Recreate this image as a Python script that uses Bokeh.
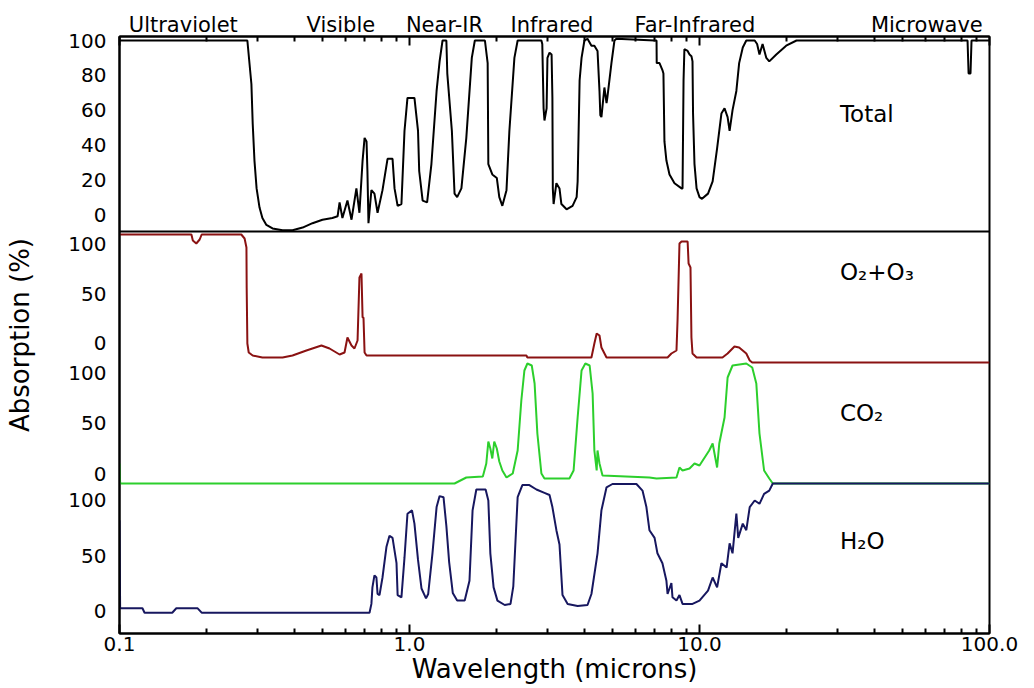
from bokeh.plotting import figure
from bokeh.models import Range1d, LogAxis, FixedTicker, Label, Span
from bokeh.embed import file_html
from bokeh.resources import INLINE

# ---------------- data (wavelength in microns, absorption in %) ----------------
TOTAL = [(0.1, 100), (0.276, 100), (0.285, 75), (0.288, 52), (0.292, 31), (0.297, 15), (0.304, 4),
         (0.311, -2), (0.321, -6), (0.337, -8), (0.365, -9), (0.395, -9), (0.428, -7.5), (0.463, -5),
         (0.501, -3), (0.542, -2), (0.565, -1), (0.574, 7), (0.587, -2), (0.611, 8), (0.631, -3),
         (0.656, 15), (0.672, 1), (0.689, 31), (0.700, 44), (0.711, 42), (0.716, 25), (0.722, -5),
         (0.739, 14), (0.757, 12), (0.776, 1), (0.807, 14), (0.840, 32), (0.874, 32), (0.888, 15),
         (0.910, 5), (0.938, 6), (0.961, 48), (0.984, 67), (1.04, 67), (1.07, 48), (1.08, 25),
         (1.11, 8), (1.15, 7), (1.19, 29), (1.24, 71), (1.27, 88), (1.30, 100), (1.34, 100),
         (1.35, 81), (1.40, 48), (1.43, 12), (1.46, 10), (1.51, 15), (1.57, 44), (1.64, 90),
         (1.68, 100), (1.82, 100), (1.86, 87), (1.87, 29), (1.93, 23), (2.00, 21), (2.04, 10),
         (2.09, 5), (2.16, 14), (2.21, 48), (2.30, 90), (2.36, 100), (2.85, 100), (2.87, 98),
         (2.90, 61), (2.92, 54), (2.97, 61), (2.99, 90), (3.04, 93), (3.09, 92), (3.11, 67),
         (3.12, 15), (3.14, 6), (3.21, 18), (3.29, 15), (3.34, 6), (3.48, 3), (3.65, 5), (3.77, 10),
         (3.80, 19), (3.86, 77), (3.92, 90), (4.01, 100), (4.11, 101), (4.24, 97), (4.34, 97),
         (4.45, 94), (4.52, 71), (4.55, 57), (4.59, 56), (4.70, 73), (4.78, 64), (4.81, 67),
         (4.97, 87), (5.09, 100), (5.17, 101), (7.00, 100), (7.11, 100), (7.12, 87), (7.28, 87),
         (7.45, 83), (7.51, 81), (7.57, 42), (7.69, 31), (7.88, 23), (8.20, 18), (8.67, 15),
         (8.74, 15), (8.81, 77), (8.87, 95), (9.10, 94), (9.24, 92), (9.38, 91), (9.46, 88),
         (9.50, 58), (9.61, 29), (9.77, 15), (10.0, 10), (10.2, 9), (10.7, 12), (11.1, 19),
         (11.5, 38), (11.9, 58), (12.2, 61), (12.5, 56), (12.7, 48), (13.0, 60), (13.4, 71),
         (13.7, 87), (14.1, 96), (14.5, 100), (15.5, 100), (15.8, 98), (16.1, 92), (16.5, 98),
         (17.0, 90), (17.4, 88), (18.4, 92), (19.9, 97), (21.6, 100), (84.0, 100), (84.7, 81),
         (86.0, 81), (86.7, 100), (100.0, 100)]

O2O3 = [(0.1, 109), (0.177, 109), (0.179, 103), (0.184, 100), (0.189, 104), (0.192, 109),
        (0.263, 109), (0.270, 105), (0.274, 96), (0.2745, 56), (0.276, 0), (0.279, -9), (0.288, -12),
        (0.311, -14), (0.365, -14), (0.395, -12), (0.441, -7), (0.497, -2), (0.530, -5),
        (0.574, -11), (0.597, -9), (0.611, 6), (0.631, -2), (0.646, -5), (0.662, 3), (0.672, 66),
        (0.683, 70), (0.689, 26), (0.694, 26), (0.700, -9), (0.711, -12), (2.53, -12), (2.55, -14),
        (4.24, -14), (4.34, 0), (4.42, 10), (4.52, 8), (4.59, -4), (4.78, -14), (7.76, -14),
        (8.0, -10), (8.33, -7), (8.40, 23), (8.53, 100), (8.67, 102), (9.10, 102), (9.17, 80),
        (9.31, 76), (9.38, 6), (9.46, -10), (9.77, -14), (12.0, -14), (12.5, -10), (13.2, -3),
        (13.7, -4), (14.5, -10), (14.9, -17), (15.2, -19), (100.0, -19)]

CO2 = [(0.1, 10), (0.1005, -9), (0.101, -10), (1.43, -10), (1.57, -4), (1.79, -3), (1.84, 10),
       (1.87, 32), (1.90, 25), (1.93, 15), (1.96, 32), (2.00, 25), (2.04, 12), (2.09, 3),
       (2.16, -4), (2.27, 0), (2.36, 23), (2.43, 73), (2.49, 103), (2.55, 110), (2.64, 108),
       (2.70, 90), (2.76, 40), (2.85, 0), (2.92, -5), (3.56, -5), (3.68, 3), (3.80, 56),
       (3.92, 103), (4.04, 110), (4.18, 108), (4.28, 80), (4.34, 23), (4.42, 3), (4.45, 23),
       (4.52, 10), (4.63, -2), (6.72, -4), (7.11, -5), (8.33, -4), (8.53, 6), (8.74, 3),
       (9.24, 5), (9.61, 10), (10.0, 8), (10.8, 23), (11.1, 30), (11.5, 6), (11.7, 30),
       (12.2, 56), (12.5, 96), (13.0, 108), (14.5, 110), (15.2, 106), (15.7, 90), (16.1, 40),
       (16.7, 3), (17.4, -5), (17.9, -10), (100.0, -10)]

H2O = [(0.1, 82), (0.1005, 2), (0.120, 2), (0.122, -2), (0.152, -2), (0.157, 2), (0.186, 2),
       (0.192, -2), (0.728, -2), (0.739, 6), (0.745, 21), (0.757, 32), (0.769, 30), (0.776, 15),
       (0.788, 14), (0.807, 30), (0.833, 58), (0.853, 68), (0.874, 66), (0.902, 43), (0.910, 14),
       (0.938, 12), (0.961, 48), (0.984, 88), (1.02, 91), (1.04, 79), (1.07, 46), (1.10, 20),
       (1.14, 11), (1.16, 15), (1.20, 52), (1.24, 94), (1.27, 104), (1.31, 103), (1.34, 77),
       (1.37, 44), (1.41, 16), (1.46, 9), (1.55, 9), (1.61, 27), (1.65, 91), (1.70, 110),
       (1.83, 110), (1.87, 100), (1.90, 52), (1.95, 21), (2.01, 9), (2.13, 5), (2.23, 6),
       (2.28, 22), (2.36, 103), (2.45, 114), (2.59, 114), (2.74, 110), (2.92, 107), (3.04, 105),
       (3.11, 94), (3.21, 73), (3.29, 60), (3.37, 14), (3.51, 6), (3.80, 4), (4.11, 5),
       (4.24, 15), (4.45, 52), (4.59, 91), (4.78, 112), (5.01, 115), (6.06, 115), (6.36, 109),
       (6.56, 94), (6.72, 73), (7.00, 66), (7.16, 52), (7.45, 43), (7.69, 27), (7.76, 15),
       (8.00, 25), (8.07, 12), (8.33, 9), (8.53, 14), (8.74, 6), (9.46, 6), (10.0, 9),
       (10.7, 18), (11.1, 30), (11.5, 21), (11.9, 43), (12.4, 39), (12.7, 61), (13.0, 52),
       (13.4, 88), (13.6, 66), (14.1, 79), (14.5, 73), (14.9, 94), (15.5, 100), (16.1, 97),
       (16.7, 106), (17.4, 109), (17.9, 115.5), (100.0, 115.5)]

REGION_NAMES = ["Ultraviolet", "Visible", "Near-IR", "Infrared", "Far-Infrared", "Microwave"]
REGION_CENTERS_UM = [0.166, 0.580, 1.32, 3.10, 9.64, 60.8]
PANEL_NAMES = ["Total", "O₂+O₃", "CO₂", "H₂O"]
X_TICKS = [0.1, 1.0, 10.0, 100.0]
X_TICK_LABELS = ["0.1", "1.0", "10.0", "100.0"]
X_MINOR_TICKS = [0.2, 0.3, 0.4, 0.5, 0.6, 0.7, 0.8, 0.9,
                 2.0, 3.0, 4.0, 5.0, 6.0, 7.0, 8.0, 9.0,
                 20.0, 30.0, 40.0, 50.0, 60.0, 70.0, 80.0, 90.0]
TOTAL_TICKS = [0, 20, 40, 60, 80, 100]
GAS_TICKS = [0, 50, 100]

# ---------------- layout (pixels) ----------------
W, H = 1034, 688
FRAME_L, FRAME_R, FRAME_T, FRAME_B = 119, 989, 36, 633
# pixel row of each panel's 0 %, and pixels per percent
GEOM = {"total": (214, 1.74), "o2o3": (343, 1.0), "co2": (473, 1.0), "h2o": (610, 1.1)}
COLORS = {"total": "#000000", "o2o3": "#8a1212", "co2": "#2ccf2c", "h2o": "#17175f"}
FONT = "DejaVu Sans"


def panel_range(key):
    z, k = GEOM[key]
    return Range1d(start=(z - FRAME_B) / k, end=(z - FRAME_T) / k)


def px_to_main(py):
    z, k = GEOM["total"]
    return round((z - py) / k, 4)


def to_main(key, v):
    z, k = GEOM[key]
    return px_to_main(z - k * v)


def unzip(pairs):
    return [a for a, _ in pairs], [b for _, b in pairs]


p = figure(width=W, height=H, x_axis_type="log",
           x_range=Range1d(0.1, 100), y_range=panel_range("total"),
           output_backend="svg", toolbar_location=None,
           min_border_left=FRAME_L, min_border_right=W - FRAME_R,
           min_border_top=FRAME_T, min_border_bottom=H - FRAME_B)
p.extra_y_ranges = {k: panel_range(k) for k in ("o2o3", "co2", "h2o")}
p.background_fill_color = "white"
p.border_fill_color = "white"
p.outline_line_color = "black"
p.outline_line_width = 2
p.xgrid.visible = False
p.ygrid.visible = False

# x axis (bottom)
xa = p.xaxis[0]
xa.ticker = FixedTicker(ticks=X_TICKS, minor_ticks=X_MINOR_TICKS)
xa.major_label_overrides = {t: s for t, s in zip(X_TICKS, X_TICK_LABELS)}
xa.axis_label = "Wavelength (microns)"
xa.major_tick_in = 9
xa.major_tick_out = 0
xa.minor_tick_in = 5
xa.minor_tick_out = 0
xa.major_tick_line_width = 2
xa.minor_tick_line_width = 2
xa.axis_line_width = 2
xa.major_label_text_font = FONT
xa.major_label_text_font_size = "20px"
xa.major_label_text_color = "black"
xa.major_label_standoff = 3
xa.axis_label_text_font = FONT
xa.axis_label_text_font_size = "26px"
xa.axis_label_text_font_style = "normal"
xa.axis_label_text_color = "black"
xa.axis_label_standoff = 0

# top tick marks (labels invisible)
top = LogAxis(ticker=FixedTicker(ticks=X_TICKS, minor_ticks=X_MINOR_TICKS),
              major_label_text_font_size="1px", major_label_text_alpha=0.0,
              major_label_standoff=0,
              major_tick_in=9, major_tick_out=0, minor_tick_in=5, minor_tick_out=0,
              major_tick_line_width=2, minor_tick_line_width=2, axis_line_width=2)
p.add_layout(top, "above")

# spectral region names along the top
regions = LogAxis(ticker=FixedTicker(ticks=REGION_CENTERS_UM, minor_ticks=[]),
                  major_label_overrides={wl: nm for wl, nm in zip(REGION_CENTERS_UM, REGION_NAMES)},
                  major_tick_line_color=None, minor_tick_line_color=None, axis_line_color=None,
                  major_tick_in=0, major_tick_out=0, minor_tick_in=0, minor_tick_out=0,
                  major_label_standoff=0, major_label_text_font=FONT,
                  major_label_text_font_size="21px", major_label_text_color="black")
p.add_layout(regions, "above")

# y axis with stacked panel labels
ytick_pos, ytick_lab = [], []
for t in TOTAL_TICKS:
    ytick_pos.append(to_main("total", t)); ytick_lab.append(str(t))
for key in ("o2o3", "co2", "h2o"):
    for t in GAS_TICKS:
        ytick_pos.append(to_main(key, t)); ytick_lab.append(str(t))
ya = p.yaxis[0]
ya.ticker = FixedTicker(ticks=ytick_pos)
ya.major_label_overrides = {pos: lab for pos, lab in zip(ytick_pos, ytick_lab)}
ya.major_tick_line_color = None
ya.minor_tick_line_color = None
ya.axis_line_color = "black"
ya.axis_line_width = 2
ya.major_label_text_font = FONT
ya.major_label_text_font_size = "20px"
ya.major_label_text_color = "black"
ya.major_label_standoff = 7
ya.axis_label = "Absorption (%)"
ya.axis_label_text_font = FONT
ya.axis_label_text_font_size = "26px"
ya.axis_label_text_font_style = "normal"
ya.axis_label_text_color = "black"
ya.axis_label_standoff = 30

# separator between Total and the gas panels
p.add_layout(Span(location=px_to_main(231), dimension="width", line_color="black", line_width=2))

# curves
for key, data in (("total", TOTAL), ("o2o3", O2O3), ("co2", CO2), ("h2o", H2O)):
    xs, ys = unzip(data)
    kw = {} if key == "total" else {"y_range_name": key}
    p.line(xs, ys, line_color=COLORS[key], line_width=2, **kw)

# panel names
PANEL_LABEL_POS = {"total": 57.5, "o2o3": 72, "co2": 61, "h2o": 63.6}
for key, name in zip(("total", "o2o3", "co2", "h2o"), PANEL_NAMES):
    kw = {} if key == "total" else {"y_range_name": key}
    p.add_layout(Label(x=30.5, y=PANEL_LABEL_POS[key], text=name, text_font=FONT,
                       text_font_size="23px", text_color="black", text_align="left",
                       text_baseline="middle", **kw))

open("out.html", "w").write(file_html(p, INLINE))
